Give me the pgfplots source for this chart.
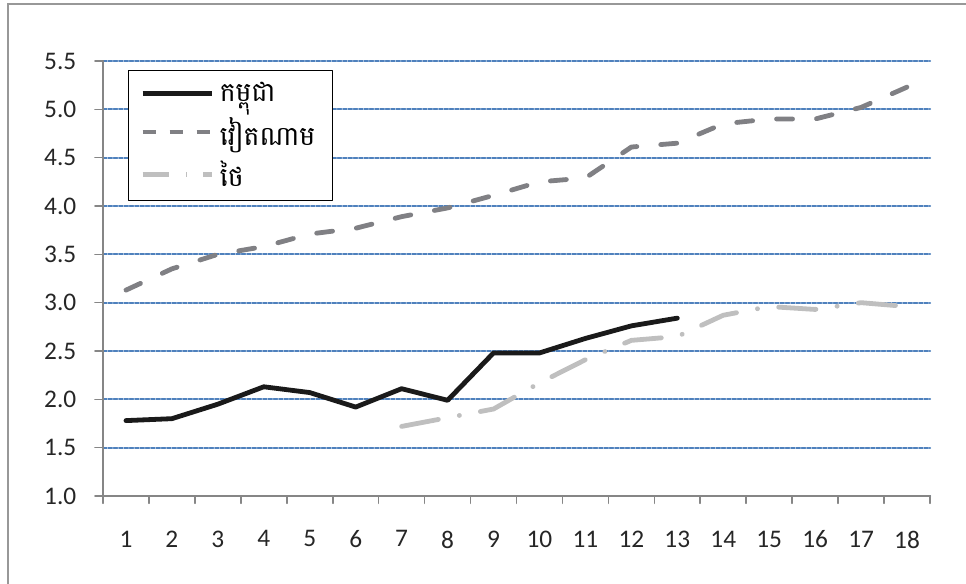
\documentclass[border=0pt]{standalone}
\usepackage{pgfplots}
\pgfplotsset{compat=1.18}
\usepackage{fontspec}
\setmainfont{Carlito}
\newfontfamily\khmerfont[Script=Khmer]{Battambang}

\definecolor{gridblue}{RGB}{79,129,189}
\definecolor{axisgray}{RGB}{134,134,134}
\definecolor{vngray}{RGB}{128,128,132}
\definecolor{thgray}{RGB}{191,191,191}
\definecolor{khblack}{RGB}{26,26,26}
\definecolor{textgray}{RGB}{38,38,38}

\begin{document}
\begin{tikzpicture}[x=1pt,y=1pt]
\useasboundingbox (0,0) rectangle (724.5,437.25);
\draw[axisgray!85, line width=1.3pt] (6,-20) rectangle (760,434);
\begin{axis}[
    at={(77.25pt,65.25pt)}, anchor=south west,
    scale only axis, width=620.25pt, height=326.25pt,
    xmin=0.5, xmax=18.5, ymin=1, ymax=5.5,
    axis x line*=bottom, axis y line*=left,
    axis line style={-, axisgray, line width=1.5pt},
    xtick={1,...,18},
    minor xtick={0.5,1.5,...,18.5},
    major x tick style={draw=none},
    ytick={1,1.5,2,2.5,3,3.5,4,4.5,5,5.5},
    tick align=outside,
    major tick length=6pt, minor tick length=5.5pt,
    tick style={axisgray, line width=1.2pt},
    ymajorgrids,
    major grid style={gridblue, line width=1.5pt, dash pattern=on 2.8pt off 1.2pt},
    tick label style={font=\fontsize{19}{23}\selectfont, text=textgray,
        /pgf/number format/assume math mode=true},
    yticklabel style={xshift=-10.5pt,
        /pgf/number format/.cd, fixed, fixed zerofill, precision=1},
    xticklabel style={yshift=-16.5pt},
    legend cell align=left,
    legend style={at={(0.030,0.979)}, anchor=north west, draw=black,
        line width=0.8pt, fill=white,
        font=\khmerfont\fontsize{20}{24}\selectfont,
        row sep=6pt, inner xsep=9pt, inner ysep=7pt,
        nodes={inner xsep=4pt}},
    legend image code/.code={\draw[#1] (0pt,0pt) -- (52pt,0pt);},
    line cap=round, line join=round,
]

\addplot[khblack, line width=3.6pt] coordinates {
    (1,1.78) (2,1.80) (3,1.95) (4,2.13) (5,2.07) (6,1.92) (7,2.11)
    (8,1.99) (9,2.48) (10,2.48) (11,2.63) (12,2.76) (13,2.84)
};

\addplot[vngray, line width=3.6pt, dash pattern=on 12pt off 18pt,
    legend image post style={line width=3.2pt, dash pattern=on 9.7pt off 10.5pt}] coordinates {
    (1,3.13) (2,3.35) (3,3.50) (4,3.58) (5,3.71) (6,3.77) (7,3.89)
    (8,3.98) (9,4.11) (10,4.25) (11,4.29) (12,4.61) (13,4.65) (14,4.85)
    (15,4.90) (16,4.90) (17,5.02) (18,5.23)
};

\addplot[thgray, line width=3.6pt, dash pattern=on 28pt off 16pt on 0.1pt off 16pt,
    legend image post style={line width=3.2pt, dash pattern=on 20pt off 12.7pt on 0.1pt off 12.7pt}] coordinates {
    (7,1.72) (8,1.81) (9,1.90) (10,2.17) (11,2.41) (12,2.61) (13,2.65)
    (14,2.87) (15,2.96) (16,2.93) (17,3.00) (18,2.96)
};

\legend{កម្ពុជា, វៀតណាម, ថៃ}
\end{axis}
\end{tikzpicture}
\end{document}
